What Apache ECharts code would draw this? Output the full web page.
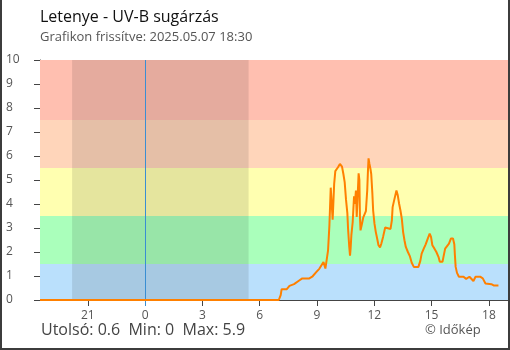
<!DOCTYPE html>
<html>
<head>
<meta charset="utf-8">
<script src="https://cdn.jsdelivr.net/npm/echarts@6/dist/echarts.min.js"></script>
<style>
  html, body { margin: 0; padding: 0; background: #fff; }
  #chart { width: 510px; height: 350px; }
</style>
</head>
<body>
<div id="chart"></div>
<script>
// Hours relative to midnight of 2025.05.07 (negative = previous evening)
const hours = [
  -5.5, 7.0, 7.1, 7.15, 7.42, 7.56, 7.8, 8.05, 8.23, 8.6, 8.75, 8.96, 9.13, 9.34, 9.44, 9.52,
  9.58, 9.65, 9.72, 9.76, 9.82, 9.9, 9.96, 10.1, 10.2, 10.31, 10.38, 10.45, 10.52, 10.59,
  10.63, 10.69, 10.73, 10.76, 10.8, 10.87, 10.94, 10.98, 11.04, 11.08, 11.12, 11.18, 11.22,
  11.25, 11.28, 11.35, 11.42, 11.49, 11.56, 11.63, 11.67, 11.7, 11.74, 11.8, 11.84, 11.9,
  11.94, 12.01, 12.08, 12.15, 12.22, 12.3, 12.37, 12.46, 12.57, 12.67, 12.85, 12.92, 12.96,
  13.03, 13.1, 13.16, 13.23, 13.3, 13.37, 13.44, 13.51, 13.58, 13.65, 13.76, 13.86, 13.96,
  14.07, 14.31, 14.41, 14.48, 14.59, 14.69, 14.8, 14.9, 14.97, 15.04, 15.15, 15.25, 15.36,
  15.43, 15.57, 15.64, 15.71, 15.81, 15.91, 16.01, 16.12, 16.19, 16.22, 16.26, 16.33, 16.43,
  16.67, 16.81, 16.98, 17.08, 17.19, 17.3, 17.54, 17.68, 17.82, 18.13, 18.27, 18.5
];
// UV-B intensity
const uvb = [
  0, 0, 0.2, 0.45, 0.45, 0.59, 0.66, 0.8, 0.9, 0.9, 0.97, 1.16, 1.31, 1.58, 1.31, 1.31,
  2.07, 3.1, 4.68, 4.15, 3.35, 4.84, 5.37, 5.53, 5.67, 5.56, 5.26, 4.91, 4.18, 3.62,
  2.93, 2.21, 1.85, 2.14, 2.7, 3.25, 4.32, 4.0, 4.56, 3.46, 4.15, 5.28, 5.0,
  3.46, 2.9, 3.15, 3.43, 3.35, 3.7, 4.56, 5.42, 5.9, 5.7, 5.46, 5.25, 4.43,
  3.73, 3.18, 2.83, 2.56, 2.28, 2.19, 2.35, 2.63, 3.02, 2.96, 2.96, 3.32, 3.87,
  4.12, 4.15, 4.56, 4.36, 4.01, 3.73, 3.39, 2.83, 2.49, 2.21, 2.0, 1.83, 1.55,
  1.38, 1.38, 1.63, 1.93, 2.14, 2.32, 2.56, 2.77, 2.63, 2.28, 2.14, 2.0, 1.8,
  1.59, 1.59, 1.87, 2.14, 2.21, 2.35, 2.56, 2.56, 2.32, 1.87, 1.38, 1.13, 0.97,
  0.97, 0.88, 0.97, 0.9, 0.79, 0.97, 0.97, 0.9, 0.69, 0.66, 0.6, 0.6
];

// Intensity bands (lower/upper limits) and their fills
const bandLimits = [0, 1.5, 3.5, 5.5, 7.5, 10];
const bandColors = ['#bae0fc', '#aaffbb', '#ffffb0', '#ffd5ba', '#ffbfb0'];

// Night period (sunset previous evening -> sunrise)
const sunset = -3.82;
const sunrise = 5.42;

// Hour ticks
const hourTicks = [-3, 0, 3, 6, 9, 12, 15, 18];
const xMin = -5.5, xMax = 19;

const titleText = 'Letenye - UV-B sugárzás';
const subtitleText = 'Grafikon frissítve: 2025.05.07 18:30';

const font = 'Open Sans';
const axisColor = '#444';
const labelColor = '#555';

const points = hours.map((h, i) => [h, uvb[i]]);
const last = uvb[uvb.length - 1];
const minV = Math.min(...uvb);
const maxV = Math.max(...uvb);

const fmt = v => String(((v % 24) + 24) % 24);

const bandAreas = bandColors.map((c, i) => [
  { yAxis: bandLimits[i], itemStyle: { color: c } },
  { yAxis: bandLimits[i + 1] }
]);

const chart = echarts.init(document.getElementById('chart'), null, { renderer: 'canvas' });

const baseX = {
  type: 'value', min: xMin, max: xMax, position: 'bottom',
  splitLine: { show: false }
};
const baseY = {
  type: 'value', min: 0, max: 10, interval: 1, position: 'left',
  splitLine: { show: false }
};

chart.setOption({
  animation: false,
  textStyle: { fontFamily: font },
  title: [
    { text: titleText, left: 40, top: 9, padding: 0,
      textStyle: { fontFamily: font, fontSize: 16, fontWeight: 'normal', color: '#111' } },
    { text: subtitleText, left: 40, top: 31, padding: 0,
      textStyle: { fontFamily: font, fontSize: 13, fontWeight: 'normal', color: '#555' } }
  ],
  grid: { left: 40, right: 2, top: 60, bottom: 50, containLabel: false },
  xAxis: [
    Object.assign({}, baseX, {
      axisLine: { show: true, onZero: false, lineStyle: { color: axisColor, width: 1 } },
      axisTick: { show: true, inside: false, length: 6, customValues: hourTicks.filter(v => v !== 0),
        lineStyle: { color: axisColor } },
      axisLabel: { show: true, customValues: hourTicks, formatter: fmt, margin: 10,
        color: labelColor, fontSize: 12, fontFamily: font }
    }),
    Object.assign({}, baseX, {
      axisLine: { show: false },
      axisTick: { show: true, inside: true, length: 6, customValues: hourTicks,
        lineStyle: { color: axisColor } },
      axisLabel: { show: false }
    }),
    Object.assign({}, baseX, {
      axisLine: { show: false },
      axisTick: { show: true, inside: false, length: 6, customValues: [0],
        lineStyle: { color: '#3a8ed2' } },
      axisLabel: { show: false }
    })
  ],
  yAxis: [
    Object.assign({}, baseY, {
      axisLine: { show: true, onZero: false, lineStyle: { color: axisColor, width: 1 } },
      axisTick: { show: true, inside: false, length: 6, lineStyle: { color: axisColor } },
      axisLabel: { show: true, align: 'left', margin: 34, color: labelColor, fontSize: 12, fontFamily: font }
    }),
    Object.assign({}, baseY, {
      axisLine: { show: false },
      axisTick: { show: true, inside: true, length: 6, lineStyle: { color: axisColor } },
      axisLabel: { show: false }
    })
  ],
  series: [
    {
      name: 'bands', type: 'line', data: [], z: 1, silent: true,
      markArea: { silent: true, data: bandAreas }
    },
    {
      name: 'night', type: 'line', data: [], z: 1, silent: true,
      markArea: { silent: true, itemStyle: { color: 'rgba(0,0,0,0.1)' },
        data: [[{ xAxis: sunset }, { xAxis: sunrise }]] },
      markLine: { silent: true, symbol: 'none', label: { show: false },
        lineStyle: { color: '#3a8ed2', width: 1, type: 'solid' },
        data: [{ xAxis: 0 }] }
    },
    {
      name: 'UV-B', type: 'line', data: points, z: 5,
      showSymbol: false, symbol: 'none',
      lineStyle: { color: '#ff8000', width: 2 },
      clip: false
    }
  ],
  graphic: [
    { type: 'text', left: 41, top: 322,
      style: { text: 'Utolsó: ' + last + '  Min: ' + minV + '  Max: ' + maxV,
        font: '16px "Open Sans"', fill: '#444' } },
    { type: 'text', left: 425, top: 324,
      style: { text: '© Időkép', font: '13px "Open Sans"', fill: '#555' } },
    { type: 'rect', silent: true, z: 100,
      shape: { x: 1, y: -5, width: 508, height: 354 },
      style: { fill: 'none', stroke: '#3c3c3c', lineWidth: 2 } }
  ]
});
</script>
</body>
</html>
